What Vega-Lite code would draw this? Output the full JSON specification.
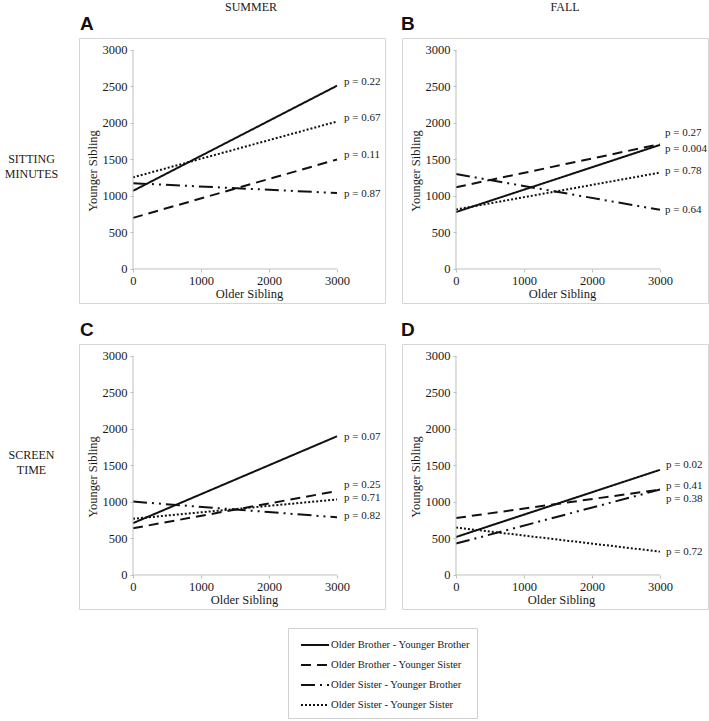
{
  "$schema": "https://vega.github.io/schema/vega-lite/v6.json",
  "padding": 0,
  "background": "white",
  "config": {
    "font": "Liberation Serif",
    "view": {"stroke": "#d6d6d6", "strokeWidth": 1},
    "concat": {"spacing": 15},
    "axis": {"grid": false, "domain": false, "tickColor": "#bfbfbf", "tickSize": 3, "labelFont": "Liberation Serif", "labelFontSize": 12.5, "labelColor": "#1a1a1a", "titleFont": "Liberation Serif", "titleFontSize": 12.5, "titleFontWeight": "normal", "titleColor": "#1a1a1a", "labelOverlap": false, "labelFlush": false, "format": "d"},
    "axisX": {"offset": -34, "labelPadding": 2, "titlePadding": 1, "labelAngle": 0},
    "axisY": {"offset": -54, "labelPadding": 3, "titlePadding": 3},
    "title": {"font": "Liberation Sans", "fontSize": 19, "fontWeight": "bold", "anchor": "start", "orient": "bottom", "baseline": "top", "offset": 1, "color": "#111111", "dx": 2},
    "text": {"font": "Liberation Serif", "color": "#1a1a1a"},
    "legend": {"title": null, "direction": "vertical", "strokeColor": "#d0d0d0", "padding": 7, "labelFont": "Liberation Serif", "labelFontSize": 10.6, "labelColor": "#1a1a1a", "symbolType": "M-1.556,0H1.556", "symbolSize": 324, "symbolStrokeWidth": 2, "symbolStrokeColor": "#111111", "rowPadding": 4, "symbolOffset": 10, "labelOffset": 6}
  },
  "datasets": {
    "lines": [
      {"panel": "A", "pair": "Older Brother - Younger Brother", "x": 0, "y": 1070},
      {"panel": "A", "pair": "Older Brother - Younger Brother", "x": 3000, "y": 2510},
      {"panel": "A", "pair": "Older Brother - Younger Sister", "x": 0, "y": 700},
      {"panel": "A", "pair": "Older Brother - Younger Sister", "x": 3000, "y": 1500},
      {"panel": "A", "pair": "Older Sister - Younger Brother", "x": 0, "y": 1175},
      {"panel": "A", "pair": "Older Sister - Younger Brother", "x": 3000, "y": 1040},
      {"panel": "A", "pair": "Older Sister - Younger Sister", "x": 0, "y": 1255},
      {"panel": "A", "pair": "Older Sister - Younger Sister", "x": 3000, "y": 2020},
      {"panel": "B", "pair": "Older Brother - Younger Brother", "x": 0, "y": 780},
      {"panel": "B", "pair": "Older Brother - Younger Brother", "x": 3000, "y": 1700},
      {"panel": "B", "pair": "Older Brother - Younger Sister", "x": 0, "y": 1120},
      {"panel": "B", "pair": "Older Brother - Younger Sister", "x": 3000, "y": 1710},
      {"panel": "B", "pair": "Older Sister - Younger Brother", "x": 0, "y": 1300},
      {"panel": "B", "pair": "Older Sister - Younger Brother", "x": 3000, "y": 810},
      {"panel": "B", "pair": "Older Sister - Younger Sister", "x": 0, "y": 815},
      {"panel": "B", "pair": "Older Sister - Younger Sister", "x": 3000, "y": 1320},
      {"panel": "C", "pair": "Older Brother - Younger Brother", "x": 0, "y": 710},
      {"panel": "C", "pair": "Older Brother - Younger Brother", "x": 3000, "y": 1900},
      {"panel": "C", "pair": "Older Brother - Younger Sister", "x": 0, "y": 640},
      {"panel": "C", "pair": "Older Brother - Younger Sister", "x": 3000, "y": 1150},
      {"panel": "C", "pair": "Older Sister - Younger Brother", "x": 0, "y": 1005},
      {"panel": "C", "pair": "Older Sister - Younger Brother", "x": 3000, "y": 790},
      {"panel": "C", "pair": "Older Sister - Younger Sister", "x": 0, "y": 770},
      {"panel": "C", "pair": "Older Sister - Younger Sister", "x": 3000, "y": 1035},
      {"panel": "D", "pair": "Older Brother - Younger Brother", "x": 0, "y": 520},
      {"panel": "D", "pair": "Older Brother - Younger Brother", "x": 3000, "y": 1440},
      {"panel": "D", "pair": "Older Brother - Younger Sister", "x": 0, "y": 780},
      {"panel": "D", "pair": "Older Brother - Younger Sister", "x": 3000, "y": 1170},
      {"panel": "D", "pair": "Older Sister - Younger Brother", "x": 0, "y": 430},
      {"panel": "D", "pair": "Older Sister - Younger Brother", "x": 3000, "y": 1170},
      {"panel": "D", "pair": "Older Sister - Younger Sister", "x": 0, "y": 650},
      {"panel": "D", "pair": "Older Sister - Younger Sister", "x": 3000, "y": 320}
    ],
    "labels": [
      {"panel": "A", "p": "p = 0.22", "ly": 2560},
      {"panel": "A", "p": "p = 0.67", "ly": 2070},
      {"panel": "A", "p": "p = 0.11", "ly": 1560},
      {"panel": "A", "p": "p = 0.87", "ly": 1030},
      {"panel": "B", "p": "p = 0.27", "ly": 1860},
      {"panel": "B", "p": "p = 0.004", "ly": 1645},
      {"panel": "B", "p": "p = 0.78", "ly": 1340},
      {"panel": "B", "p": "p = 0.64", "ly": 810},
      {"panel": "C", "p": "p = 0.07", "ly": 1890},
      {"panel": "C", "p": "p = 0.25", "ly": 1230},
      {"panel": "C", "p": "p = 0.71", "ly": 1055},
      {"panel": "C", "p": "p = 0.82", "ly": 810},
      {"panel": "D", "p": "p = 0.02", "ly": 1505},
      {"panel": "D", "p": "p = 0.41", "ly": 1220},
      {"panel": "D", "p": "p = 0.38", "ly": 1040},
      {"panel": "D", "p": "p = 0.72", "ly": 315}
    ]
  },
  "vconcat": [
    {
      "hconcat": [
        {"width": 63, "height": 14, "view": {"stroke": null}, "data": {"values": [{"t": ""}]}, "mark": "text", "encoding": {"text": {"field": "t"}}},
        {"width": 306, "height": 14, "view": {"stroke": null}, "data": {"values": [{"t": "SUMMER"}]}, "mark": {"type": "text", "fontSize": 12, "dx": 20}, "encoding": {"text": {"field": "t"}}, "title": {"text": "A"}},
        {"width": 306, "height": 14, "view": {"stroke": null}, "data": {"values": [{"t": "FALL"}]}, "mark": {"type": "text", "fontSize": 12, "dx": 13}, "encoding": {"text": {"field": "t"}}, "title": {"text": "B"}}
      ]
    },
    {
      "hconcat": [
        {"width": 63, "height": 265, "view": {"stroke": null}, "data": {"values": [{"t": "SITTING\nMINUTES"}]}, "mark": {"type": "text", "fontSize": 12, "lineBreak": "\n", "lineHeight": 15, "dy": -12}, "encoding": {"text": {"field": "t"}}},
        {
          "width": 306, "height": 265,
          "layer": [
            {"data": {"name": "lines"}, "transform": [{"filter": "datum.panel === 'A'"}], "mark": {"type": "line", "color": "#111111", "strokeWidth": 2},
             "encoding": {
               "x": {"field": "x", "type": "quantitative", "scale": {"domain": [-794, 3706], "nice": false, "zero": false}, "axis": {"values": [0, 1000, 2000, 3000], "format": "d", "title": "Older Sibling", "titleX": 170}},
               "y": {"field": "y", "type": "quantitative", "scale": {"domain": [-466, 3164], "nice": false, "zero": false}, "axis": {"values": [0, 500, 1000, 1500, 2000, 2500, 3000], "format": "d", "title": "Younger Sibling"}},
               "strokeDash": {"field": "pair", "type": "nominal", "scale": {"domain": ["Older Brother - Younger Brother", "Older Brother - Younger Sister", "Older Sister - Younger Brother", "Older Sister - Younger Sister"], "range": [[1, 0], [10, 6], [14, 5, 2, 5, 2, 5], [2, 2]]}, "legend": {"orient": "none", "legendX": 288, "legendY": 628, "title": null}}
             }},
            {"data": {"name": "labels"}, "transform": [{"filter": "datum.panel === 'A'"}], "mark": {"type": "text", "align": "left", "dx": 7, "fontSize": 11},
             "encoding": {"x": {"datum": 3000, "scale": {"domain": [-794, 3706], "nice": false, "zero": false}, "axis": {"values": [0, 1000, 2000, 3000], "format": "d", "title": "Older Sibling", "titleX": 170}}, "y": {"field": "ly", "type": "quantitative", "scale": {"domain": [-466, 3164], "nice": false, "zero": false}, "axis": {"values": [0, 500, 1000, 1500, 2000, 2500, 3000], "format": "d", "title": "Younger Sibling"}}, "text": {"field": "p"}}},
            {"data": {"values": [{}]}, "mark": {"type": "rule", "color": "#bfbfbf", "strokeWidth": 1},
             "encoding": {"x": {"datum": 0, "scale": {"domain": [-794, 3706], "nice": false, "zero": false}, "axis": {"values": [0, 1000, 2000, 3000], "format": "d", "title": "Older Sibling", "titleX": 170}}, "x2": {"datum": 3000}, "y": {"datum": 0, "scale": {"domain": [-466, 3164], "nice": false, "zero": false}, "axis": {"values": [0, 500, 1000, 1500, 2000, 2500, 3000], "format": "d", "title": "Younger Sibling"}}}},
            {"data": {"values": [{}]}, "mark": {"type": "rule", "color": "#bfbfbf", "strokeWidth": 1},
             "encoding": {"x": {"datum": 0, "scale": {"domain": [-794, 3706], "nice": false, "zero": false}, "axis": {"values": [0, 1000, 2000, 3000], "format": "d", "title": "Older Sibling", "titleX": 170}}, "y": {"datum": 0, "scale": {"domain": [-466, 3164], "nice": false, "zero": false}, "axis": {"values": [0, 500, 1000, 1500, 2000, 2500, 3000], "format": "d", "title": "Younger Sibling"}}, "y2": {"datum": 3000}}}
          ]
        },
        {
          "width": 306, "height": 265,
          "layer": [
            {"data": {"name": "lines"}, "transform": [{"filter": "datum.panel === 'B'"}], "mark": {"type": "line", "color": "#111111", "strokeWidth": 2},
             "encoding": {
               "x": {"field": "x", "type": "quantitative", "scale": {"domain": [-794, 3706], "nice": false, "zero": false}, "axis": {"values": [0, 1000, 2000, 3000], "format": "d", "title": "Older Sibling", "titleX": 160}},
               "y": {"field": "y", "type": "quantitative", "scale": {"domain": [-466, 3164], "nice": false, "zero": false}, "axis": {"values": [0, 500, 1000, 1500, 2000, 2500, 3000], "format": "d", "title": "Younger Sibling"}},
               "strokeDash": {"field": "pair", "type": "nominal", "scale": {"domain": ["Older Brother - Younger Brother", "Older Brother - Younger Sister", "Older Sister - Younger Brother", "Older Sister - Younger Sister"], "range": [[1, 0], [10, 6], [14, 5, 2, 5, 2, 5], [2, 2]]}, "legend": {"orient": "none", "legendX": 288, "legendY": 628, "title": null}}
             }},
            {"data": {"name": "labels"}, "transform": [{"filter": "datum.panel === 'B'"}], "mark": {"type": "text", "align": "left", "dx": 5, "fontSize": 11},
             "encoding": {"x": {"datum": 3000, "scale": {"domain": [-794, 3706], "nice": false, "zero": false}, "axis": {"values": [0, 1000, 2000, 3000], "format": "d", "title": "Older Sibling", "titleX": 160}}, "y": {"field": "ly", "type": "quantitative", "scale": {"domain": [-466, 3164], "nice": false, "zero": false}, "axis": {"values": [0, 500, 1000, 1500, 2000, 2500, 3000], "format": "d", "title": "Younger Sibling"}}, "text": {"field": "p"}}},
            {"data": {"values": [{}]}, "mark": {"type": "rule", "color": "#bfbfbf", "strokeWidth": 1},
             "encoding": {"x": {"datum": 0, "scale": {"domain": [-794, 3706], "nice": false, "zero": false}, "axis": {"values": [0, 1000, 2000, 3000], "format": "d", "title": "Older Sibling", "titleX": 160}}, "x2": {"datum": 3000}, "y": {"datum": 0, "scale": {"domain": [-466, 3164], "nice": false, "zero": false}, "axis": {"values": [0, 500, 1000, 1500, 2000, 2500, 3000], "format": "d", "title": "Younger Sibling"}}}},
            {"data": {"values": [{}]}, "mark": {"type": "rule", "color": "#bfbfbf", "strokeWidth": 1},
             "encoding": {"x": {"datum": 0, "scale": {"domain": [-794, 3706], "nice": false, "zero": false}, "axis": {"values": [0, 1000, 2000, 3000], "format": "d", "title": "Older Sibling", "titleX": 160}}, "y": {"datum": 0, "scale": {"domain": [-466, 3164], "nice": false, "zero": false}, "axis": {"values": [0, 500, 1000, 1500, 2000, 2500, 3000], "format": "d", "title": "Younger Sibling"}}, "y2": {"datum": 3000}}}
          ]
        }
      ]
    },
    {
      "hconcat": [
        {"width": 63, "height": 13, "view": {"stroke": null}, "data": {"values": [{"t": ""}]}, "mark": "text", "encoding": {"text": {"field": "t"}}},
        {"width": 306, "height": 13, "view": {"stroke": null}, "data": {"values": [{"t": ""}]}, "mark": "text", "encoding": {"text": {"field": "t"}}, "title": {"text": "C"}},
        {"width": 306, "height": 13, "view": {"stroke": null}, "data": {"values": [{"t": ""}]}, "mark": "text", "encoding": {"text": {"field": "t"}}, "title": {"text": "D"}}
      ]
    },
    {
      "hconcat": [
        {"width": 63, "height": 265, "view": {"stroke": null}, "data": {"values": [{"t": "SCREEN\nTIME"}]}, "mark": {"type": "text", "fontSize": 12, "lineBreak": "\n", "lineHeight": 15, "dy": -22}, "encoding": {"text": {"field": "t"}}},
        {
          "width": 306, "height": 265,
          "layer": [
            {"data": {"name": "lines"}, "transform": [{"filter": "datum.panel === 'C'"}], "mark": {"type": "line", "color": "#111111", "strokeWidth": 2},
             "encoding": {
               "x": {"field": "x", "type": "quantitative", "scale": {"domain": [-794, 3706], "nice": false, "zero": false}, "axis": {"values": [0, 1000, 2000, 3000], "format": "d", "title": "Older Sibling", "titleX": 165}},
               "y": {"field": "y", "type": "quantitative", "scale": {"domain": [-466, 3164], "nice": false, "zero": false}, "axis": {"values": [0, 500, 1000, 1500, 2000, 2500, 3000], "format": "d", "title": "Younger Sibling"}},
               "strokeDash": {"field": "pair", "type": "nominal", "scale": {"domain": ["Older Brother - Younger Brother", "Older Brother - Younger Sister", "Older Sister - Younger Brother", "Older Sister - Younger Sister"], "range": [[1, 0], [10, 6], [14, 5, 2, 5, 2, 5], [2, 2]]}, "legend": {"orient": "none", "legendX": 288, "legendY": 628, "title": null}}
             }},
            {"data": {"name": "labels"}, "transform": [{"filter": "datum.panel === 'C'"}], "mark": {"type": "text", "align": "left", "dx": 7, "fontSize": 11},
             "encoding": {"x": {"datum": 3000, "scale": {"domain": [-794, 3706], "nice": false, "zero": false}, "axis": {"values": [0, 1000, 2000, 3000], "format": "d", "title": "Older Sibling", "titleX": 165}}, "y": {"field": "ly", "type": "quantitative", "scale": {"domain": [-466, 3164], "nice": false, "zero": false}, "axis": {"values": [0, 500, 1000, 1500, 2000, 2500, 3000], "format": "d", "title": "Younger Sibling"}}, "text": {"field": "p"}}},
            {"data": {"values": [{}]}, "mark": {"type": "rule", "color": "#bfbfbf", "strokeWidth": 1},
             "encoding": {"x": {"datum": 0, "scale": {"domain": [-794, 3706], "nice": false, "zero": false}, "axis": {"values": [0, 1000, 2000, 3000], "format": "d", "title": "Older Sibling", "titleX": 165}}, "x2": {"datum": 3000}, "y": {"datum": 0, "scale": {"domain": [-466, 3164], "nice": false, "zero": false}, "axis": {"values": [0, 500, 1000, 1500, 2000, 2500, 3000], "format": "d", "title": "Younger Sibling"}}}},
            {"data": {"values": [{}]}, "mark": {"type": "rule", "color": "#bfbfbf", "strokeWidth": 1},
             "encoding": {"x": {"datum": 0, "scale": {"domain": [-794, 3706], "nice": false, "zero": false}, "axis": {"values": [0, 1000, 2000, 3000], "format": "d", "title": "Older Sibling", "titleX": 165}}, "y": {"datum": 0, "scale": {"domain": [-466, 3164], "nice": false, "zero": false}, "axis": {"values": [0, 500, 1000, 1500, 2000, 2500, 3000], "format": "d", "title": "Younger Sibling"}}, "y2": {"datum": 3000}}}
          ]
        },
        {
          "width": 306, "height": 265,
          "layer": [
            {"data": {"name": "lines"}, "transform": [{"filter": "datum.panel === 'D'"}], "mark": {"type": "line", "color": "#111111", "strokeWidth": 2},
             "encoding": {
               "x": {"field": "x", "type": "quantitative", "scale": {"domain": [-794, 3706], "nice": false, "zero": false}, "axis": {"values": [0, 1000, 2000, 3000], "format": "d", "title": "Older Sibling", "titleX": 159}},
               "y": {"field": "y", "type": "quantitative", "scale": {"domain": [-466, 3164], "nice": false, "zero": false}, "axis": {"values": [0, 500, 1000, 1500, 2000, 2500, 3000], "format": "d", "title": "Younger Sibling"}},
               "strokeDash": {"field": "pair", "type": "nominal", "scale": {"domain": ["Older Brother - Younger Brother", "Older Brother - Younger Sister", "Older Sister - Younger Brother", "Older Sister - Younger Sister"], "range": [[1, 0], [10, 6], [14, 5, 2, 5, 2, 5], [2, 2]]}, "legend": {"orient": "none", "legendX": 288, "legendY": 628, "title": null}}
             }},
            {"data": {"name": "labels"}, "transform": [{"filter": "datum.panel === 'D'"}], "mark": {"type": "text", "align": "left", "dx": 6, "fontSize": 11},
             "encoding": {"x": {"datum": 3000, "scale": {"domain": [-794, 3706], "nice": false, "zero": false}, "axis": {"values": [0, 1000, 2000, 3000], "format": "d", "title": "Older Sibling", "titleX": 159}}, "y": {"field": "ly", "type": "quantitative", "scale": {"domain": [-466, 3164], "nice": false, "zero": false}, "axis": {"values": [0, 500, 1000, 1500, 2000, 2500, 3000], "format": "d", "title": "Younger Sibling"}}, "text": {"field": "p"}}},
            {"data": {"values": [{}]}, "mark": {"type": "rule", "color": "#bfbfbf", "strokeWidth": 1},
             "encoding": {"x": {"datum": 0, "scale": {"domain": [-794, 3706], "nice": false, "zero": false}, "axis": {"values": [0, 1000, 2000, 3000], "format": "d", "title": "Older Sibling", "titleX": 159}}, "x2": {"datum": 3000}, "y": {"datum": 0, "scale": {"domain": [-466, 3164], "nice": false, "zero": false}, "axis": {"values": [0, 500, 1000, 1500, 2000, 2500, 3000], "format": "d", "title": "Younger Sibling"}}}},
            {"data": {"values": [{}]}, "mark": {"type": "rule", "color": "#bfbfbf", "strokeWidth": 1},
             "encoding": {"x": {"datum": 0, "scale": {"domain": [-794, 3706], "nice": false, "zero": false}, "axis": {"values": [0, 1000, 2000, 3000], "format": "d", "title": "Older Sibling", "titleX": 159}}, "y": {"datum": 0, "scale": {"domain": [-466, 3164], "nice": false, "zero": false}, "axis": {"values": [0, 500, 1000, 1500, 2000, 2500, 3000], "format": "d", "title": "Younger Sibling"}}, "y2": {"datum": 3000}}}
          ]
        }
      ]
    }
  ],
  "spacing": 3
}
